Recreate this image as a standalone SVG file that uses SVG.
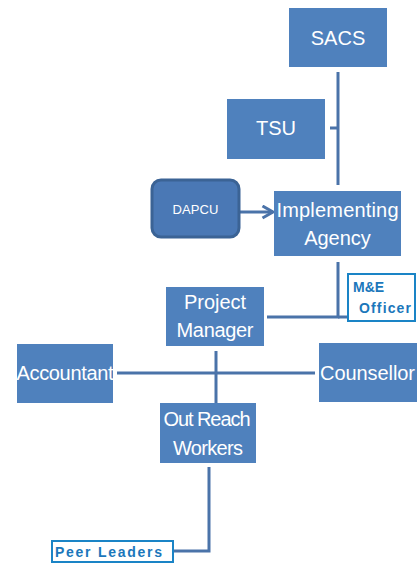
<svg xmlns="http://www.w3.org/2000/svg" width="420" height="563" viewBox="0 0 420 563">
  <defs>
    <style>
      .box { fill: #4f81bd; }
      .lbl { fill: #ffffff; font-family: "Liberation Sans", "DejaVu Sans", sans-serif; font-size: 20px; text-anchor: middle; }
      .link { fill: none; stroke: #4a73a9; stroke-width: 3; }
      .tag { fill: #ffffff; stroke: #1a84c6; stroke-width: 2; }
      .tagtxt { fill: #1b77bb; font-family: "Liberation Sans", "DejaVu Sans", sans-serif; font-size: 14px; font-weight: bold; }
    </style>
    <marker id="arrow" viewBox="0 0 10 10" refX="8" refY="5" markerWidth="5" markerHeight="5" orient="auto">
      <path d="M1,1 L8,5 L1,9" fill="none" stroke="#4a73a9" stroke-width="2"/>
    </marker>
  </defs>

  <rect width="420" height="563" fill="#ffffff"/>

  <!-- connectors -->
  <g id="connectors">
    <path class="link" d="M338,72 V185"/>
    <path class="link" d="M330,128 H338"/>
    <path class="link" d="M239,212 H273" marker-end="url(#arrow)"/>
    <path class="link" d="M338,262 V317 H267"/>
    <path class="link" d="M338,317 H348"/>
    <path class="link" d="M117,373 H315"/>
    <path class="link" d="M216,351 V412"/>
    <path class="link" d="M209,467 V551 H172"/>
  </g>

  <g id="sacs">
    <rect class="box" x="289" y="8" width="98" height="59"/>
    <text class="lbl" x="338" y="45">SACS</text>
  </g>

  <g id="tsu">
    <rect class="box" x="227" y="99" width="98" height="60"/>
    <text class="lbl" x="276" y="135">TSU</text>
  </g>

  <g id="dapcu">
    <rect x="152" y="180" width="87" height="57" rx="9" fill="#4a78b5" stroke="#3b6395" stroke-width="3"/>
    <text x="195.5" y="214" fill="#ffffff" font-family="Liberation Sans, DejaVu Sans, sans-serif" font-size="13" text-anchor="middle" textLength="46">DAPCU</text>
  </g>

  <g id="implementing-agency">
    <rect class="box" x="274" y="191" width="127" height="65"/>
    <text class="lbl" x="337.5" y="217" textLength="122">Implementing</text>
    <text class="lbl" x="337.5" y="245">Agency</text>
  </g>

  <g id="me-officer">
    <rect class="tag" x="348" y="274" width="67" height="47"/>
    <text class="tagtxt" x="353" y="292">M&amp;E</text>
    <text class="tagtxt" x="359" y="313" textLength="52">Officer</text>
  </g>

  <g id="project-manager">
    <rect class="box" x="166" y="287" width="98" height="59"/>
    <text class="lbl" x="215" y="309">Project</text>
    <text class="lbl" x="215" y="337" textLength="77">Manager</text>
  </g>

  <g id="accountant">
    <rect class="box" x="17" y="344" width="96" height="59"/>
    <text class="lbl" x="65" y="380" textLength="97">Accountant</text>
  </g>

  <g id="counsellor">
    <rect class="box" x="319" y="343" width="98" height="59"/>
    <text class="lbl" x="367.5" y="380" textLength="95">Counsellor</text>
  </g>

  <g id="outreach-workers">
    <rect class="box" x="160" y="403" width="96" height="60"/>
    <text class="lbl" x="207" y="426" textLength="87">Out Reach</text>
    <text class="lbl" x="208" y="455" textLength="70">Workers</text>
  </g>

  <g id="peer-leaders">
    <rect class="tag" x="52" y="541" width="121" height="21"/>
    <text class="tagtxt" x="55" y="557" textLength="107">Peer Leaders</text>
  </g>
</svg>
